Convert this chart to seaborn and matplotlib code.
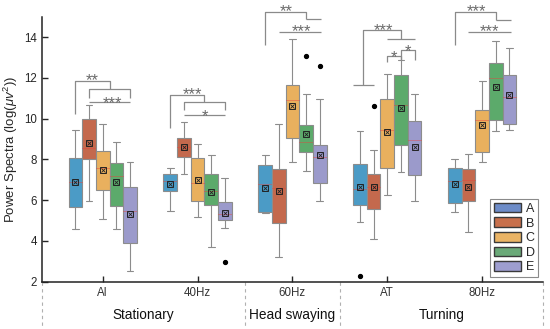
import numpy as np
import pandas as pd
import matplotlib
matplotlib.use("Agg")
import matplotlib.pyplot as plt
import matplotlib.transforms as mtransforms
from matplotlib.patches import Patch
import seaborn as sns

sns.set_theme(style="ticks")
plt.rcParams['font.family'] = ['Liberation Sans', 'DejaVu Sans']
plt.rcParams['mathtext.fontset'] = 'custom'
plt.rcParams['mathtext.rm'] = 'Liberation Sans'
plt.rcParams['mathtext.it'] = 'Liberation Sans:italic'

conditions = ["AI", "40Hz", "60Hz", "AT", "80Hz"]
groups = ["A", "B", "C", "D", "E"]
sections = ["Stationary", "Head swaying", "Turning"]
section_edges = [-0.64, 1.5, 2.5, 4.64]

# box statistics per condition (rows) and group A..E (columns)
whis_lo = [[4.58, 5.98, 5.10, 4.58, 2.53],
           [5.48, 7.30, 5.17, 3.72, 4.61],
           [5.36, 3.23, 7.87, 7.43, 5.94],
           [4.92, 4.10, 6.23, 7.38, 5.97],
           [5.41, 4.46, 7.87, 9.41, 9.45]]
q1 = [[5.66, 8.00, 6.48, 5.69, 3.89],
      [6.43, 8.10, 5.94, 5.74, 5.03],
      [5.44, 4.90, 9.05, 8.36, 6.82],
      [5.74, 5.59, 7.58, 8.69, 7.23],
      [5.84, 5.98, 8.36, 9.95, 9.74]]
median = [[6.89, 8.56, 7.58, 7.17, 5.48],
          [6.92, 8.60, 6.84, 6.46, 5.31],
          [6.79, 6.62, 10.89, 8.86, 8.10],
          [6.56, 6.64, 9.43, 10.69, 8.95],
          [6.92, 7.00, 9.94, 11.99, 11.05]]
q3 = [[8.08, 9.99, 8.41, 7.82, 6.66],
      [7.30, 9.05, 8.07, 7.30, 5.92],
      [7.71, 7.51, 11.66, 9.69, 8.71],
      [7.77, 7.30, 10.94, 12.15, 9.89],
      [7.58, 7.53, 10.40, 12.71, 12.12]]
whis_hi = [[9.46, 10.68, 9.76, 8.86, 7.87],
           [7.58, 9.84, 8.77, 8.22, 7.10],
           [8.22, 9.76, 13.92, 11.22, 10.97],
           [9.40, 8.44, 12.20, 12.86, 11.22],
           [8.04, 8.28, 11.86, 13.79, 13.48]]
means = [[6.89, 8.81, 7.48, 6.89, 5.31],
         [6.80, 8.61, 6.99, 6.40, 5.36],
         [6.62, 6.43, 10.63, 9.26, 8.23],
         [6.64, 6.64, 9.36, 10.51, 8.59],
         [6.81, 6.67, 9.67, 11.54, 11.15]]

outliers = [("40Hz", "E", 2.95), ("60Hz", "D", 13.05), ("60Hz", "E", 12.56),
            ("AT", "A", 2.30), ("AT", "B", 10.60)]

# significance brackets: condition, box slots (0=A..4=E), heights
brackets = [
    ("AI", [0, 0, 2.5, 2.5], [10.25, 11.84, 11.84, 11.46]),
    ("AI", [1, 1, 4, 4], [11.02, 11.46, 11.46, 11.02]),
    ("AI", [1, 4], [10.82, 10.82]),
    ("40Hz", [0, 0, 2.5, 2.5], [9.54, 11.18, 11.18, 10.82]),
    ("40Hz", [1, 1, 4, 4], [10.40, 10.82, 10.82, 10.40]),
    ("40Hz", [1, 4], [10.20, 10.20]),
    ("60Hz", [0, 0, 3, 3], [13.59, 15.25, 15.25, 14.87]),
    ("60Hz", [3, 4.1], [14.87, 14.87]),
    ("60Hz", [1, 4.1], [14.25, 14.25]),
    ("AT", [-0.5, 1], [11.67, 11.67]),
    ("AT", [0.25, 0.25, 3, 3], [11.67, 14.33, 14.33, 13.92]),
    ("AT", [2, 4], [13.92, 13.92]),
    ("AT", [2, 2, 3, 3], [12.78, 13.07, 13.07, 12.88]),
    ("AT", [3, 3, 4, 4], [12.88, 13.35, 13.35, 12.88]),
    ("80Hz", [0, 0, 3, 3], [13.61, 15.23, 15.23, 14.84]),
    ("80Hz", [3, 4.1], [14.84, 14.84]),
    ("80Hz", [1, 4.1], [14.25, 14.25]),
]
stars = [
    ("AI", 1.22, 11.64, "**"),
    ("AI", 2.73, 10.50, "***"),
    ("40Hz", 1.63, 10.95, "***"),
    ("40Hz", 2.56, 9.89, "*"),
    ("60Hz", 1.54, 15.02, "**"),
    ("60Hz", 2.64, 14.07, "***"),
    ("AT", 1.69, 14.10, "***"),
    ("AT", 2.48, 12.79, "*"),
    ("AT", 3.52, 13.05, "*"),
    ("80Hz", 1.55, 15.05, "***"),
    ("80Hz", 2.55, 14.04, "***"),
]

box_colors = ["#4b9bc6", "#c4694d", "#e9b05e", "#5caa6b", "#9b9acb"]
legend_colors = ["#6d8cc8", "#c8704c", "#eab465", "#6aa978", "#9e9ed0"]

WIDTH = 0.72
BOX_W = WIDTH / len(groups)

# long table: five values per box reproduce the box statistics exactly
rows = []
for ci, c in enumerate(conditions):
    for gi, g in enumerate(groups):
        for v in (whis_lo[ci][gi], q1[ci][gi], median[ci][gi], q3[ci][gi], whis_hi[ci][gi]):
            rows.append({"condition": c, "group": g, "power": v})
df = pd.DataFrame(rows)


def xpos(cond, slot):
    return conditions.index(cond) + (slot - 2) * BOX_W


fig = plt.figure(figsize=(5.5, 3.29), dpi=100)
ax = fig.add_axes([0.0764, 0.1438, 0.9106, 0.8054])

sns.boxplot(data=df, x="condition", y="power", hue="group", order=conditions,
            hue_order=groups, palette=box_colors, saturation=1, width=WIDTH, gap=0,
            whis=(0, 100), linecolor="#8c8c8c", linewidth=0.8, showfliers=False,
            legend=False, ax=ax,
            medianprops=dict(color="#e8413c", linestyle=(0, (1.2, 1.2)), linewidth=0.6))

# means
mx = [xpos(c, gi) for c in conditions for gi in range(len(groups))]
my = [means[ci][gi] for ci in range(len(conditions)) for gi in range(len(groups))]
ax.plot(mx, my, ls="none", marker="s", ms=4, mfc="none", mec="#222222", mew=0.7, zorder=5)
ax.plot(mx, my, ls="none", marker="x", ms=2.6, mec="#222222", mew=0.6, zorder=5)

# outliers
ox = [xpos(c, groups.index(g)) for c, g, v in outliers]
oy = [v for c, g, v in outliers]
ax.plot(ox, oy, ls="none", marker="o", ms=2.8, color="black", zorder=5)

for cond, slots, heights in brackets:
    ax.plot([xpos(cond, s) for s in slots], heights, color="#8a8a8a", lw=0.9,
            clip_on=False, solid_capstyle="butt")
for cond, slot, h, label in stars:
    ax.text(xpos(cond, slot), h, label, ha="center", va="baseline", fontsize=12,
            color="#6a6a6a", clip_on=False)

ax.set_xlim(-0.64, 4.64)
ax.set_ylim(2, 15)
ax.set_yticks([2, 4, 6, 8, 10, 12, 14])
ax.set_xlabel("")
ax.set_ylabel(r"Power Spectra (log($\mu v^2$))", fontsize=9.5, labelpad=3)
ax.tick_params(axis="both", direction="in", length=4, width=1, labelsize=8.3, pad=3.5)
ax.tick_params(axis="x", labelcolor="#333333")
for side in ["top", "right"]:
    ax.spines[side].set_visible(False)
for side in ["left", "bottom"]:
    ax.spines[side].set_linewidth(1.1)
    ax.spines[side].set_color("#222222")

trans = mtransforms.blended_transform_factory(ax.transData, ax.transAxes)
for xe in section_edges:
    ax.plot([xe, xe], [0, -0.19], transform=trans, color="#b0b0b0", lw=0.8,
            ls=(0, (3, 3)), clip_on=False)
for i, name in enumerate(sections):
    ax.text((section_edges[i] + section_edges[i + 1]) / 2, -0.126, name, transform=trans,
            ha="center", va="center", fontsize=9.8, color="#111111")

handles = [Patch(facecolor=legend_colors[i], edgecolor="#3a3a3a", linewidth=1.0, label=g)
           for i, g in enumerate(groups)]
leg = ax.legend(handles=handles, loc="lower right", bbox_to_anchor=(0.991, 0.017),
                borderaxespad=0, fontsize=9, handlelength=2.2, handleheight=0.8,
                labelspacing=0.2, handletextpad=0.35, borderpad=0.3,
                fancybox=False, framealpha=1, edgecolor="#8a8a8a")
leg.get_frame().set_linewidth(0.8)

fig.savefig("out.png", dpi=100)
